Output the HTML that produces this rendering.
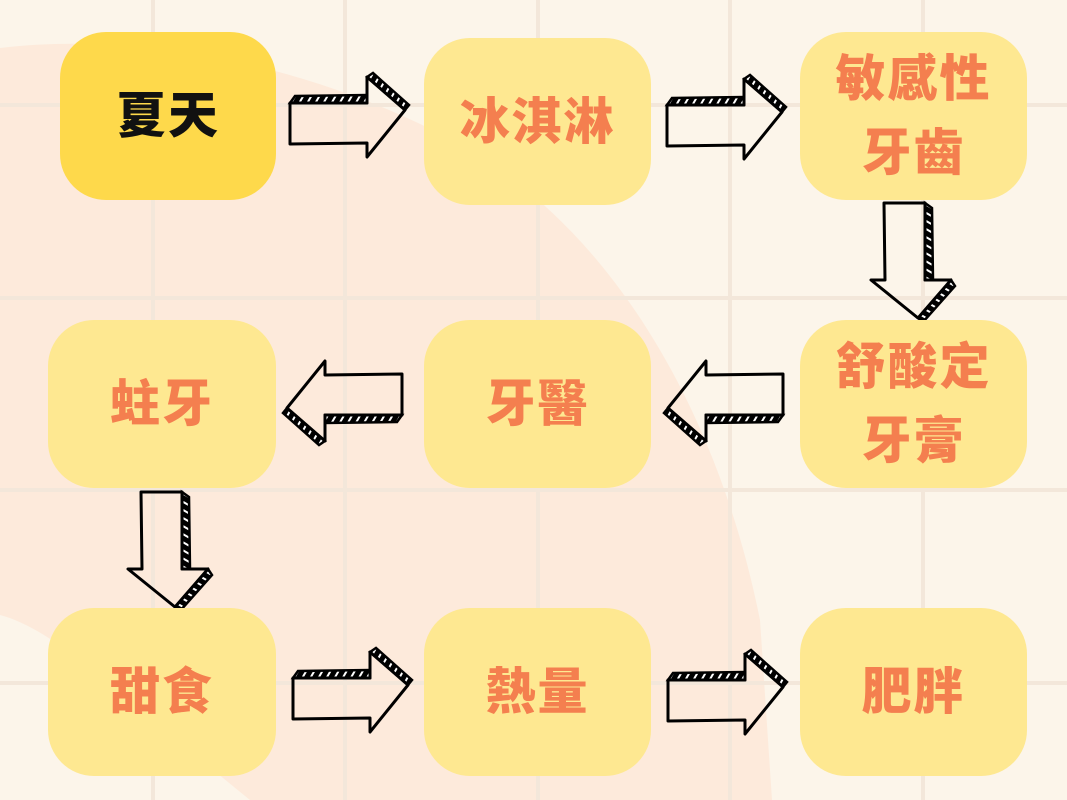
<!DOCTYPE html>
<html><head><meta charset="utf-8"><style>
html,body{margin:0;padding:0}
body{width:1067px;height:800px;position:relative;overflow:hidden;background:#fcf5ea;font-family:"Liberation Sans","Noto Sans CJK TC",sans-serif}
svg{position:absolute;left:0;top:0}
.b{position:absolute;background:#fee891;border-radius:46px;display:flex;align-items:center;justify-content:center;text-align:center;color:#f47f4f;font-weight:900;font-size:50px;line-height:74px;letter-spacing:2px}
</style></head><body>
<svg width="1067" height="800">
<defs>
<pattern id="h" width="7" height="7" patternUnits="userSpaceOnUse" patternTransform="rotate(30)">
<rect width="7" height="7" fill="#000"/><rect width="2" height="7" fill="#fff"/></pattern>
<g id="ar">
<path d="M0,0 L5,-7 L77,-8 L77,0 Z" fill="url(#h)" stroke="#000" stroke-width="2.5"/>
<path d="M77,-26 L83,-30 L119,2 L115,7 Z" fill="url(#h)" stroke="#000" stroke-width="2.5"/>
<path d="M0,0 L77,0 L77,-26 L115,7 L77,54 L77,40 L0,41 Z" fill="none" stroke="#000" stroke-width="3" stroke-linejoin="round"/>
</g>
</defs>
<path d="M0,48 C150,30 330,70 470,150 C620,240 720,420 760,620 L772,800 L250,800 C150,720 60,630 0,615 Z" fill="#fdeadb"/>
<g stroke="#f3e7da" stroke-width="4">
<line x1="153" y1="0" x2="153" y2="800"/><line x1="345" y1="0" x2="345" y2="800"/>
<line x1="538" y1="0" x2="538" y2="800"/><line x1="730" y1="0" x2="730" y2="800"/>
<line x1="923" y1="0" x2="923" y2="800"/>
<line x1="0" y1="105" x2="1067" y2="105"/><line x1="0" y1="298" x2="1067" y2="298"/>
<line x1="0" y1="490" x2="1067" y2="490"/><line x1="0" y1="683" x2="1067" y2="683"/>
</g>
<use href="#ar" transform="translate(290,103)"/>
<use href="#ar" transform="translate(667,105)"/>
<use href="#ar" transform="translate(925,203) rotate(90)"/>
<use href="#ar" transform="translate(783,415) rotate(180)"/>
<use href="#ar" transform="translate(402,415) rotate(180)"/>
<use href="#ar" transform="translate(182,492) rotate(90)"/>
<use href="#ar" transform="translate(293,678)"/>
<use href="#ar" transform="translate(668,680)"/>
</svg>
<div class="b" style="left:60px;top:32px;width:216px;height:168px;background:#fed94b;color:#111">夏天</div>
<div class="b" style="left:424px;top:38px;width:227px;height:167px">冰淇淋</div>
<div class="b" style="left:800px;top:32px;width:227px;height:168px">敏感性<br>牙齒</div>
<div class="b" style="left:48px;top:320px;width:228px;height:168px">蛀牙</div>
<div class="b" style="left:424px;top:320px;width:227px;height:168px">牙醫</div>
<div class="b" style="left:800px;top:320px;width:227px;height:168px">舒酸定<br>牙膏</div>
<div class="b" style="left:48px;top:608px;width:228px;height:168px">甜食</div>
<div class="b" style="left:424px;top:608px;width:227px;height:168px">熱量</div>
<div class="b" style="left:800px;top:608px;width:227px;height:168px">肥胖</div>
</body></html>
